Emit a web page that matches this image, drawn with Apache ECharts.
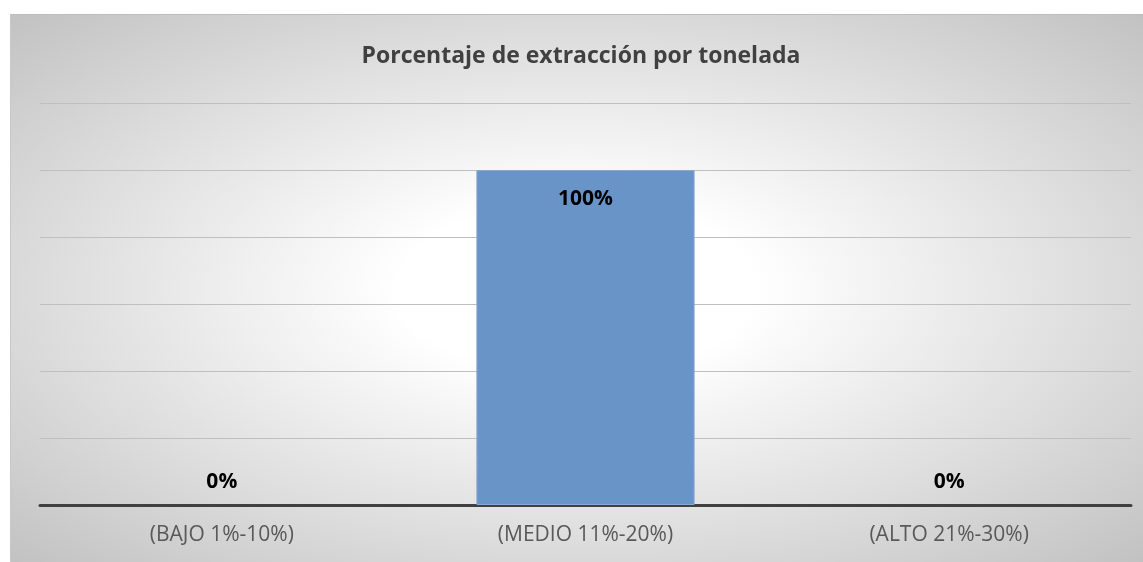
<!DOCTYPE html>
<html lang="es">
<head>
    <meta charset="UTF-8">
    <title>Porcentaje de extracción por tonelada</title>
    <script src="https://cdn.jsdelivr.net/npm/echarts@6/dist/echarts.min.js"></script>
    <style>
        html, body { margin: 0; padding: 0; background: #fff; }
        #wrap { position: relative; width: 1143px; height: 562px; }
        #bg {
            position: absolute; left: 10px; top: 14px; width: 1133px; height: 548px;
            box-sizing: border-box;
            border-top: 1px solid #bdbdbd; border-left: 1px solid #c8c8c8;
            background: radial-gradient(ellipse farthest-corner at center, #ffffff 22%, #c2c2c2 100%);
        }
        #chart { position: absolute; left: 0; top: 0; width: 1143px; height: 562px; }
    </style>
</head>
<body>
<div id="wrap">
    <div id="bg"></div>
    <div id="chart"></div>
</div>
<script type="text/javascript">
    // datos
    var titulo = 'Porcentaje de extracción por tonelada';
    var categorias = ['(BAJO 1%-10%)', '(MEDIO 11%-20%)', '(ALTO 21%-30%)'];
    var valores = [0, 100, 0];
    var ejeMax = 120;
    var ejePaso = 20;

    var fuente = "'Open Sans', 'Noto Sans', sans-serif";

    var chart = echarts.init(document.getElementById('chart'), null, {renderer: 'canvas'});

    // etiquetas: dentro arriba para barras con valor, encima del eje para ceros
    var datos = valores.map(function (v) {
        if (v > 0) {
            return {
                value: v,
                itemStyle: {borderColor: '#86a8d3', borderWidth: 1},
                label: {position: 'insideTop', distance: 19}
            };
        }
        return {value: v, label: {position: 'top', distance: 12}};
    });

    var option = {
        backgroundColor: 'transparent',
        animation: false,
        title: {
            text: titulo,
            left: 576,
            textAlign: 'center',
            top: 40,
            textStyle: {fontFamily: fuente, fontSize: 23, fontWeight: 'bold', color: '#404040'}
        },
        grid: {left: 40, right: 12, top: 103, bottom: 57, containLabel: false},
        xAxis: {
            type: 'category',
            data: categorias,
            axisLine: {lineStyle: {color: '#404040', width: 3}},
            axisTick: {show: false},
            axisLabel: {fontFamily: fuente, fontSize: 21, color: '#595959', margin: 20}
        },
        yAxis: {
            type: 'value',
            min: 0,
            max: ejeMax,
            interval: ejePaso,
            axisLabel: {show: false},
            axisLine: {show: false},
            axisTick: {show: false},
            splitLine: {lineStyle: {color: '#bfbfbf', width: 1}}
        },
        series: [{
            type: 'bar',
            data: datos,
            barWidth: '60%',
            itemStyle: {color: '#6894c7'},
            label: {
                show: true,
                formatter: '{c}%',
                fontFamily: fuente,
                fontSize: 21,
                fontWeight: 'bold',
                color: '#000'
            }
        }]
    };
    chart.setOption(option);
</script>
</body>
</html>
